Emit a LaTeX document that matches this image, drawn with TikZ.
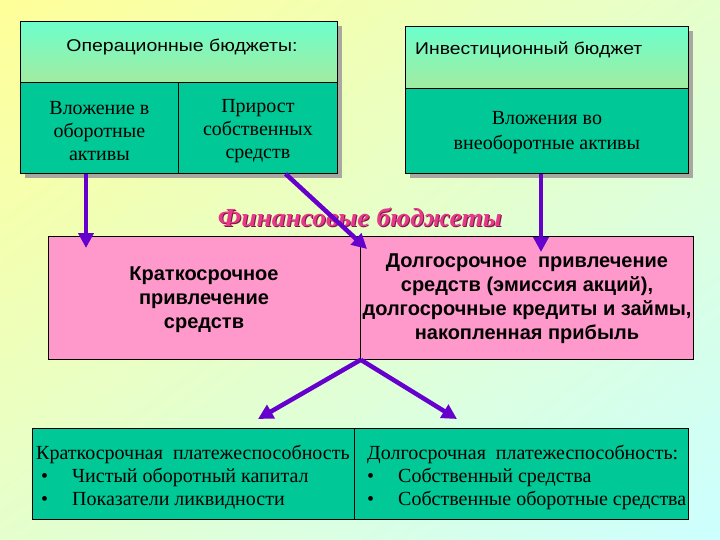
\documentclass[tikz,border=0pt]{standalone}
\usepackage{fontspec}
\usepackage{graphicx}
\setmainfont{Liberation Serif}
\setsansfont{Liberation Sans}
\usetikzlibrary{arrows.meta,calc,shadings}
\definecolor{bgA}{HTML}{FFFF99}
\definecolor{bgB}{HTML}{E5FFCC}
\definecolor{bgC}{HTML}{CCFFFF}
\definecolor{hdTop}{HTML}{6CFFCC}
\definecolor{hdBot}{HTML}{A2EBA0}
\definecolor{tealf}{HTML}{00C896}
\definecolor{pinkf}{HTML}{FF99CC}
\definecolor{arrowc}{RGB}{102,0,204}
\definecolor{titlec}{HTML}{E8388A}
\definecolor{titled}{HTML}{7A1848}
\definecolor{shadowc}{HTML}{A8A8A0}
\begin{document}
\begin{tikzpicture}[x=1pt,y=-1pt,
  box/.style={draw=black, line width=0.8pt, inner sep=0pt, anchor=north west, align=center},
  shadowbox/.style={fill=shadowc, draw=none},
  sertext/.style={font=\fontsize{20}{23}\selectfont\rmfamily, align=center, inner sep=0pt},
  hdtext/.style={font=\fontsize{17}{20}\selectfont\sffamily, inner sep=0pt},
  pinktext/.style={font=\fontsize{20}{24}\selectfont\sffamily\bfseries, align=center, inner sep=0pt},
  listtext/.style={font=\fontsize{20}{23}\selectfont\rmfamily, align=left, inner sep=0pt, anchor=north west},
  titletext/.style={font=\fontsize{26}{30}\selectfont\rmfamily\bfseries\itshape, inner sep=0pt},
  arr/.style={draw=arrowc, line width=4.5pt, -{Triangle[length=15pt,width=15pt]}}]
\useasboundingbox (0,0) rectangle (720,540);
\shade[upper left=bgA, upper right=bgB, lower left=bgB, lower right=bgC] (0,0) rectangle (720,540);

% operational budgets
\fill[shadowbox] (25,26) rectangle (342,178);
\node[box, top color=hdTop, bottom color=hdBot, minimum width=317pt, minimum height=61pt] (oph) at (20,21) {};
\node[hdtext] (opht) at ($(oph.north)+(3,26)$) {\resizebox{231pt}{\height}{Операционные бюджеты:}};
\node[box, fill=tealf, minimum width=158pt, minimum height=91pt] (va) at (20,82) {};
\node[box, fill=tealf, minimum width=159pt, minimum height=91pt] (ps) at (178,82) {};
\node[sertext] (vat) at ($(va.center)+(0,3)$) {Вложение в\\оборотные\\активы};
\node[sertext] (pst) at ($(ps.center)+(0,3)$) {Прирост\\собственных\\средств};

% investment budget
\fill[shadowbox] (410,31) rectangle (693,178);
\node[box, top color=hdTop, bottom color=hdBot, minimum width=283pt, minimum height=62pt] (ivh) at (405,26) {};
\node[hdtext, anchor=west] (ivht) at ($(ivh.north west)+(10,24)$) {\resizebox{227pt}{\height}{Инвестиционный бюджет}};
\node[box, fill=tealf, minimum width=283pt, minimum height=85pt] (iv) at (405,88) {};
\node[sertext, font=\fontsize{20}{25}\selectfont\rmfamily] (ivt) at ($(iv.center)+(0,2)$) {Вложения во\\внеоборотные активы};

% financial budgets title
\node[titletext, text=titled] (fbs) at (361,218) {\resizebox{284pt}{\height}{Финансовые бюджеты}};
\node[titletext, text=titlec] (fb) at (360,217) {\resizebox{284pt}{\height}{Финансовые бюджеты}};

% pink boxes
\node[box, fill=pinkf, minimum width=312pt, minimum height=123pt] (kp) at (48,236) {};
\node[box, fill=pinkf, minimum width=333pt, minimum height=123pt] (dp) at (360,236) {};
\node[pinktext] (kpt) at (204,300) {Краткосрочное\\привлечение\\средств};
\node[pinktext] (dpt) at (527,299) {Долгосрочное\ \ привлечение\\средств (эмиссия акций),\\долгосрочные кредиты и займы,\\накопленная прибыль};

% solvency boxes
\node[box, fill=tealf, minimum width=322pt, minimum height=91pt] (ks) at (32,428) {};
\node[box, fill=tealf, minimum width=334pt, minimum height=91pt] (ds) at (354,428) {};
\node[listtext] (kst) at ($(ks.north west)+(4,17)$) {Краткосрочная\ \ платежеспособность\\
\hspace*{5pt}\makebox[31pt][l]{•}Чистый оборотный капитал\\
\hspace*{5pt}\makebox[31pt][l]{•}Показатели ликвидности};
\node[listtext] (dst) at ($(ds.north west)+(13,17)$) {Долгосрочная\ \ платежеспособность:\\
\makebox[31pt][l]{•}Собственный средства\\
\makebox[31pt][l]{•}Собственные оборотные средства};

% arrows
\coordinate (t1) at (86,248);
\coordinate (t2) at (367,249);
\coordinate (t3) at (541,252);
\coordinate (t4) at (258,419);
\coordinate (t5) at (457,419);
\draw[arr] (t1 |- va.south) -- (t1);
\draw[arr] ($(ps.south west)!0.673!(ps.south east)$) -- (t2);
\draw[arr] (t3 |- iv.south) -- (t3);
\draw[arr] (kp.south east) -- (t4);
\draw[arr] (kp.south east) -- (t5);
\end{tikzpicture}
\end{document}
